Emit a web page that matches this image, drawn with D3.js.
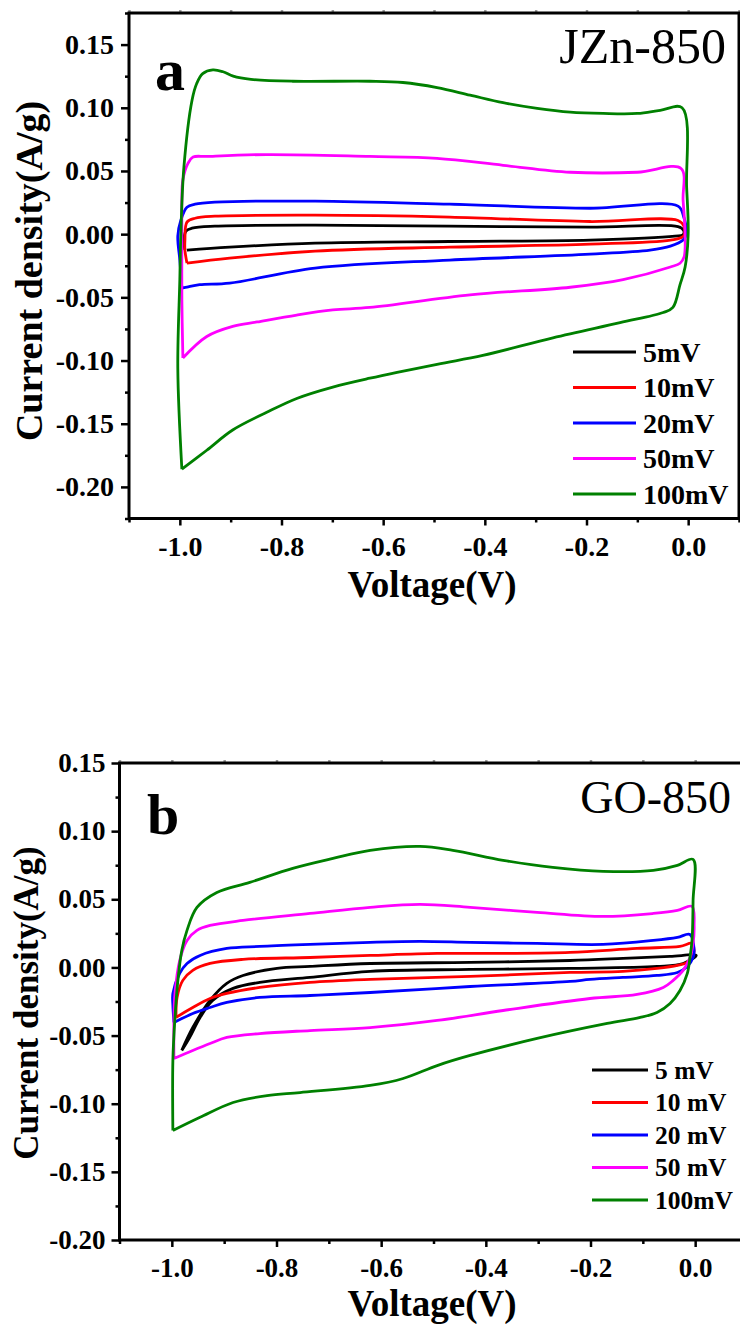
<!DOCTYPE html>
<html>
<head>
<meta charset="utf-8">
<script src="https://cdn.jsdelivr.net/npm/d3@7"></script>
<style>
body { margin: 0; background: #fff; }
svg text { font-family: "Liberation Serif", "Times New Roman", serif; }
</style>
</head>
<body>
<div id="viz-container"></div>
<script>
// tick values
let xTicks = [-1.0, -0.8, -0.6, -0.4, -0.2, 0.0];
let xMinor = [-1.1, -0.9, -0.7, -0.5, -0.3, -0.1, 0.1];
let yTicks = [0.15, 0.10, 0.05, 0.00, -0.05, -0.10, -0.15, -0.20];
let yMinorA = [0.175, 0.125, 0.075, 0.025, -0.025, -0.075, -0.125, -0.175, -0.225];
let yMinorB = [0.125, 0.075, 0.025, -0.025, -0.075, -0.125, -0.175];

// legend names
let namesA = ["5mV", "10mV", "20mV", "50mV", "100mV"];
let namesB = ["5 mV", "10 mV", "20 mV", "50 mV", "100mV"];
let colors = ["#000000", "#ff0000", "#0000ff", "#ff00ff", "#008000"];

// JZn-850, [voltage, current density]
let jzn5 = [[-0.990,-0.0126],[-0.992,-0.0047],[-0.988,0.0024],[-0.976,0.0047],[-0.931,0.0063],[-0.734,0.0071],[-0.470,0.0063],[-0.193,0.0055],[-0.020,0.0060],[-0.009,0.0030],[-0.010,-0.0005],[-0.026,-0.0016],[-0.193,-0.0047],[-0.470,-0.0058],[-0.734,-0.0071],[-0.902,-0.0103],[-0.986,-0.0126]];
let jzn10 = [[-0.986,-0.0229],[-0.990,-0.0126],[-0.990,-0.0047],[-0.986,0.0095],[-0.970,0.0126],[-0.931,0.0142],[-0.734,0.0150],[-0.469,0.0135],[-0.193,0.0100],[-0.020,0.0108],[-0.008,0.0060],[-0.009,-0.0016],[-0.035,-0.0047],[-0.193,-0.0079],[-0.469,-0.0103],[-0.734,-0.0134],[-0.902,-0.0190],[-0.986,-0.0229]];
let jzn20 = [[-0.996,-0.0427],[-1.000,-0.0205],[-1.004,-0.0016],[-0.998,0.0110],[-0.986,0.0213],[-0.970,0.0237],[-0.931,0.0253],[-0.734,0.0261],[-0.469,0.0237],[-0.193,0.0205],[-0.020,0.0222],[-0.009,0.0140],[-0.004,0.0000],[-0.010,-0.0047],[-0.035,-0.0095],[-0.075,-0.0126],[-0.193,-0.0158],[-0.469,-0.0205],[-0.734,-0.0269],[-0.902,-0.0387],[-0.961,-0.0400],[-0.986,-0.0419],[-0.996,-0.0427]];
let jzn50 = [[-0.994,-0.098],[-0.996,-0.052],[-0.996,0.000],[-0.996,0.027],[-0.994,0.043],[-0.984,0.056],[-0.974,0.061],[-0.947,0.0615],[-0.829,0.063],[-0.626,0.0615],[-0.494,0.060],[-0.364,0.0545],[-0.232,0.049],[-0.100,0.049],[-0.014,0.052],[-0.010,0.027],[-0.006,0.000],[-0.008,-0.018],[-0.016,-0.023],[-0.035,-0.026],[-0.128,-0.036],[-0.232,-0.042],[-0.429,-0.048],[-0.626,-0.058],[-0.699,-0.060],[-0.770,-0.064],[-0.848,-0.0695],[-0.896,-0.073],[-0.947,-0.081],[-0.994,-0.098]];
let jzn100 = [[-0.996,-0.186],[-1.004,-0.106],[-1.000,-0.036],[-0.998,0.000],[-0.992,0.053],[-0.976,0.106],[-0.967,0.119],[-0.955,0.127],[-0.935,0.130],[-0.915,0.1285],[-0.895,0.125],[-0.860,0.1225],[-0.778,0.121],[-0.626,0.121],[-0.561,0.120],[-0.494,0.116],[-0.429,0.110],[-0.364,0.104],[-0.297,0.0995],[-0.232,0.0965],[-0.167,0.0955],[-0.100,0.0955],[-0.055,0.098],[-0.012,0.100],[-0.003,0.037],[0.000,0.000],[-0.006,-0.026],[-0.016,-0.040],[-0.030,-0.058],[-0.049,-0.062],[-0.134,-0.070],[-0.266,-0.082],[-0.404,-0.096],[-0.494,-0.103],[-0.626,-0.114],[-0.699,-0.121],[-0.770,-0.130],[-0.829,-0.141],[-0.896,-0.155],[-0.947,-0.171],[-0.996,-0.186]];

// GO-850, [voltage, current density]
let go5 = [[-0.981,-0.0609],[-0.960,-0.0441],[-0.927,-0.0242],[-0.895,-0.0117],[-0.864,-0.0059],[-0.799,-0.0007],[-0.736,0.0007],[-0.621,0.0029],[-0.430,0.0037],[-0.239,0.0051],[-0.138,0.0066],[-0.048,0.0081],[0.002,0.0088],[-0.023,0.0029],[-0.073,0.0007],[-0.239,-0.0007],[-0.430,-0.0015],[-0.621,-0.0029],[-0.736,-0.0073],[-0.832,-0.0110],[-0.883,-0.0154],[-0.922,-0.0242],[-0.946,-0.0367],[-0.966,-0.0514],[-0.981,-0.0609]];
let go10 = [[-0.992,-0.0367],[-0.990,-0.0220],[-0.979,-0.0095],[-0.960,-0.0022],[-0.927,0.0029],[-0.864,0.0059],[-0.736,0.0073],[-0.621,0.0088],[-0.493,0.0103],[-0.367,0.0103],[-0.239,0.0110],[-0.111,0.0140],[-0.029,0.0154],[-0.006,0.0176],[-0.002,0.0125],[-0.004,0.0088],[-0.015,0.0037],[-0.034,0.0015],[-0.073,-0.0007],[-0.138,-0.0029],[-0.239,-0.0037],[-0.430,-0.0066],[-0.621,-0.0088],[-0.736,-0.0110],[-0.832,-0.0147],[-0.895,-0.0191],[-0.927,-0.0228],[-0.960,-0.0294],[-0.992,-0.0367]];
let go20 = [[-0.996,-0.0404],[-0.998,-0.0279],[-0.998,-0.0191],[-0.985,-0.0044],[-0.971,0.0029],[-0.946,0.0088],[-0.895,0.0139],[-0.832,0.0154],[-0.736,0.0169],[-0.621,0.0184],[-0.526,0.0191],[-0.430,0.0184],[-0.302,0.0176],[-0.176,0.0169],[-0.080,0.0198],[-0.034,0.0220],[-0.010,0.0242],[-0.002,0.0125],[-0.004,0.0073],[-0.015,0.0007],[-0.034,-0.0037],[-0.073,-0.0059],[-0.138,-0.0073],[-0.201,-0.0088],[-0.239,-0.0103],[-0.430,-0.0140],[-0.621,-0.0184],[-0.736,-0.0206],[-0.832,-0.0220],[-0.895,-0.0257],[-0.927,-0.0294],[-0.960,-0.0338],[-0.996,-0.0404]];
let go50 = [[-0.996,-0.0668],[-0.996,-0.0389],[-0.994,-0.0191],[-0.985,0.0051],[-0.971,0.0198],[-0.952,0.0272],[-0.927,0.0308],[-0.864,0.0345],[-0.736,0.0396],[-0.621,0.0441],[-0.526,0.0463],[-0.430,0.0441],[-0.302,0.0404],[-0.176,0.0374],[-0.080,0.0396],[-0.034,0.0418],[-0.006,0.0448],[-0.002,0.0308],[-0.004,0.0176],[-0.010,0.0073],[-0.023,-0.0022],[-0.042,-0.0095],[-0.061,-0.0147],[-0.111,-0.0198],[-0.201,-0.0228],[-0.367,-0.0316],[-0.493,-0.0389],[-0.621,-0.0441],[-0.736,-0.0463],[-0.832,-0.0485],[-0.895,-0.0514],[-0.927,-0.0558],[-0.960,-0.0609],[-0.996,-0.0668]];
let go100 = [[-0.998,-0.1197],[-0.998,-0.0683],[-0.994,-0.0367],[-0.989,-0.0117],[-0.981,0.0125],[-0.971,0.0272],[-0.952,0.0440],[-0.914,0.0550],[-0.851,0.0624],[-0.769,0.0727],[-0.692,0.0800],[-0.621,0.0859],[-0.526,0.0888],[-0.463,0.0859],[-0.367,0.0786],[-0.272,0.0734],[-0.176,0.0705],[-0.080,0.0712],[-0.034,0.0749],[-0.004,0.0793],[-0.004,0.0490],[-0.006,0.0198],[-0.010,0.0073],[-0.015,-0.0044],[-0.029,-0.0169],[-0.048,-0.0264],[-0.073,-0.0330],[-0.105,-0.0367],[-0.168,-0.0411],[-0.302,-0.0521],[-0.430,-0.0646],[-0.493,-0.0720],[-0.558,-0.0815],[-0.621,-0.0866],[-0.755,-0.0918],[-0.818,-0.0940],[-0.883,-0.0991],[-0.946,-0.1100],[-0.998,-0.1197]];

let viz = d3.select("#viz-container")
    .append("svg")
        .attr("width", 740)
        .attr("height", 1324)
;

function drawPanel(p) {
    let x = d3.scaleLinear().domain([-1.1, 0.1]).range([p.left, p.right]);
    let y = d3.scaleLinear().domain(p.yDomain).range([p.bottom, p.top]);
    let g = viz.append("g");

    // minor ticks
    g.append("g")
        .attr("transform", "translate(0," + p.bottom + ")")
        .call(d3.axisBottom(x).tickValues(xMinor).tickSize(4).tickFormat(""));
    g.append("g")
        .attr("transform", "translate(" + p.left + ",0)")
        .call(d3.axisLeft(y).tickValues(p.yMinor).tickSize(4).tickFormat(""));
    // top small ticks
    g.append("g")
        .attr("transform", "translate(0," + p.top + ")")
        .call(d3.axisTop(x).tickValues(xTicks.concat(xMinor)).tickSize(3).tickFormat(""))
        .selectAll("line").attr("stroke", "#999");

    // major ticks
    g.append("g")
        .attr("transform", "translate(0," + p.bottom + ")")
        .call(d3.axisBottom(x).tickValues(xTicks).tickSize(7).tickPadding(11)
            .tickFormat(d => d.toFixed(1)));
    g.append("g")
        .attr("transform", "translate(" + p.left + ",0)")
        .call(d3.axisLeft(y).tickValues(yTicks).tickSize(8).tickPadding(p.yPad)
            .tickFormat(d => d.toFixed(2)));

    g.selectAll(".domain").remove();
    g.selectAll(".tick line").attr("stroke-width", 2.5);
    g.selectAll(".tick text")
        .attr("font-weight", "bold")
        .attr("font-size", p.tickFont)
        .attr("fill", "#000");

    // frame
    g.append("rect")
        .attr("x", p.left)
        .attr("y", p.top)
        .attr("width", p.right - p.left)
        .attr("height", p.bottom - p.top)
        .attr("fill", "none")
        .attr("stroke", "#000")
        .attr("stroke-width", 3);

    // curves
    let line = d3.line()
        .x(d => x(d[0]))
        .y(d => y(d[1]))
        .curve(d3.curveCatmullRom.alpha(0.5));
    p.curves.forEach(function(c, i) {
        g.append("path")
            .attr("d", line(c))
            .attr("fill", "none")
            .attr("stroke", colors[i])
            .attr("stroke-width", 2.8)
            .attr("stroke-linejoin", "round");
    });

    // legend
    p.names.forEach(function(n, i) {
        let ly = p.legY + i * p.legStep;
        g.append("line")
            .attr("x1", p.legX).attr("x2", p.legX + p.legLen)
            .attr("y1", ly).attr("y2", ly)
            .attr("stroke", colors[i])
            .attr("stroke-width", 3);
        g.append("text")
            .attr("x", p.legX + p.legLen + 7)
            .attr("y", ly)
            .attr("dy", "0.34em")
            .attr("font-weight", "bold")
            .attr("font-size", p.legFont)
            .text(n);
    });

    // labels
    g.append("text")
        .attr("x", p.xTitleX)
        .attr("y", p.xTitleY)
        .attr("text-anchor", "middle")
        .attr("font-weight", "bold")
        .attr("font-size", 37)
        .text("Voltage(V)");
    g.append("text")
        .attr("transform", "translate(" + p.yTitleX + "," + p.yTitleY + ") rotate(-90)")
        .attr("text-anchor", "middle")
        .attr("font-weight", "bold")
        .attr("font-size", p.yTitleFont)
        .text("Current density(A/g)");
    g.append("text")
        .attr("x", p.tagX)
        .attr("y", p.tagY)
        .attr("font-weight", "bold")
        .attr("font-size", p.tagFont)
        .text(p.tag);
    g.append("text")
        .attr("x", p.nameX)
        .attr("y", p.nameY)
        .attr("text-anchor", "end")
        .attr("font-size", p.nameFont)
        .text(p.name);
}

drawPanel({
    left: 129, right: 739, top: 13, bottom: 518.5,
    yDomain: [-0.225, 0.175], yMinor: yMinorA, yPad: 7, tickFont: 28,
    curves: [jzn5, jzn10, jzn20, jzn50, jzn100], names: namesA,
    legX: 573, legLen: 63, legY: 352, legStep: 35.5, legFont: 28,
    xTitleX: 432, xTitleY: 597, yTitleX: 42, yTitleY: 271, yTitleFont: 38,
    tag: "a", tagX: 155, tagY: 90, tagFont: 60,
    name: "JZn-850", nameX: 726, nameY: 63, nameFont: 50
});

drawPanel({
    left: 119.5, right: 747.5, top: 763, bottom: 1240,
    yDomain: [-0.2, 0.15], yMinor: yMinorB, yPad: 6, tickFont: 27,
    curves: [go5, go10, go20, go50, go100], names: namesB,
    legX: 592, legLen: 56, legY: 1070, legStep: 32.5, legFont: 25.5,
    xTitleX: 432, xTitleY: 1316, yTitleX: 38, yTitleY: 1003, yTitleFont: 35,
    tag: "b", tagX: 147, tagY: 834, tagFont: 58,
    name: "GO-850", nameX: 731, nameY: 813, nameFont: 46
});
</script>
</body>
</html>
